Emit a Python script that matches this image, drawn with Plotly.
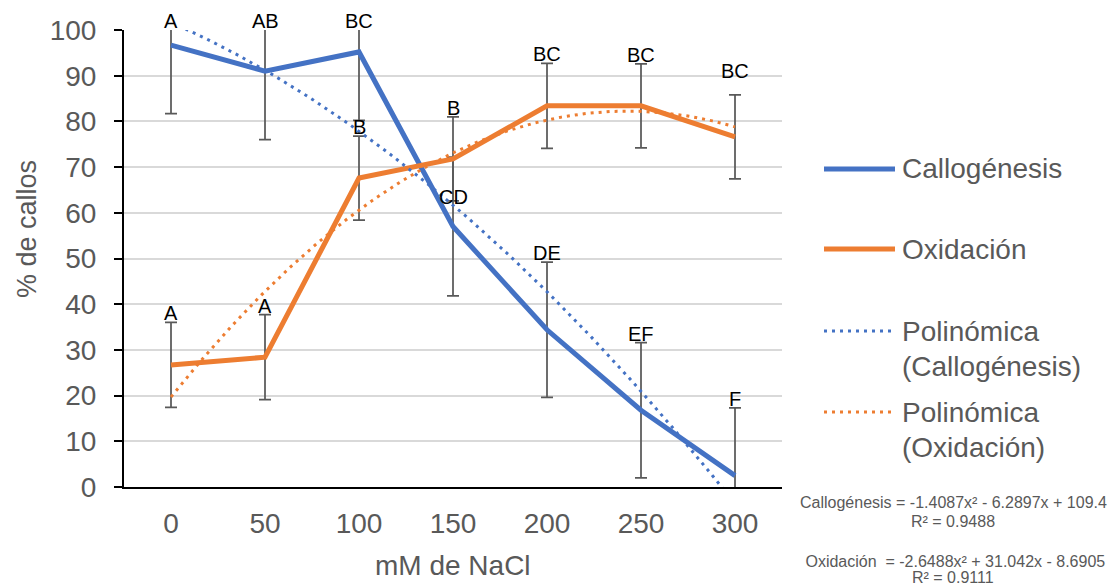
import numpy as np
import plotly.graph_objects as go

# ---------------- data ----------------
concentrations = ["0", "50", "100", "150", "200", "250", "300"]
callogenesis = [96.7, 91.0, 95.2, 57.0, 34.4, 16.8, 2.5]
callogenesis_err = [15.0, 15.0, 15.0, 15.2, 14.8, 14.8, 14.8]
oxidacion = [26.7, 28.4, 67.6, 71.8, 83.4, 83.4, 76.6]
oxidacion_err = [9.3, 9.3, 9.2, 9.2, 9.3, 9.2, 9.2]
letters_callogenesis = ["A", "AB", "BC", "CD", "DE", "EF", "F"]
letters_oxidacion = ["A", "A", "B", "B", "BC", "BC", "BC"]
# polynomial trendline coefficients (Excel, x = category number 1..7)
coef_callogenesis = [-1.4087, -6.2897, 109.4]
coef_oxidacion = [-2.6488, 31.042, -8.6905]
r2_callogenesis = "0.9488"
r2_oxidacion = "0.9111"

# ---------------- style ----------------
W, H = 1109, 588
L, R, T, B = 124, 327, 30, 101
BLUE = "#4472C4"
ORANGE = "#ED7D31"
GREY = "#595959"
FONT = "Liberation Sans, Arial, sans-serif"
plot_w = W - L - R
plot_h = H - T - B


def px_x(px):
    return (px - L) / plot_w


def px_y(py):
    return (H - B - py) / plot_h


idx = list(range(len(concentrations)))
t = np.linspace(0, len(concentrations) - 1, 300)
trend_cal = np.polyval(coef_callogenesis, t + 1)
trend_ox = np.polyval(coef_oxidacion, t + 1)

err_style = dict(type="data", color=GREY, thickness=1.75, width=6)
fig = go.Figure()
fig.add_trace(go.Scatter(x=idx, y=callogenesis, mode="lines",
                         line=dict(color=BLUE, width=5),
                         error_y=dict(array=callogenesis_err, **err_style),
                         showlegend=False))
fig.add_trace(go.Scatter(x=idx, y=oxidacion, mode="lines",
                         line=dict(color=ORANGE, width=5),
                         error_y=dict(array=oxidacion_err, **err_style),
                         showlegend=False))
fig.add_trace(go.Scatter(x=t, y=trend_cal, mode="lines",
                         line=dict(color=BLUE, width=3, dash="3px,5px"),
                         showlegend=False))
fig.add_trace(go.Scatter(x=t, y=trend_ox, mode="lines",
                         line=dict(color=ORANGE, width=3, dash="3px,5px"),
                         showlegend=False))

annotations = []
# significance letters (pixel nudges for hand-placed labels)
nudge = {("cal", 3): -49, ("ox", 6): 15}
for key, vals, errs, letters in (("cal", callogenesis, callogenesis_err, letters_callogenesis),
                                 ("ox", oxidacion, oxidacion_err, letters_oxidacion)):
    for i, (v, e, s) in enumerate(zip(vals, errs, letters)):
        annotations.append(dict(x=i, y=min(v + e, 100), xref="x", yref="y", text=s,
                                showarrow=False, yanchor="bottom", xanchor="center",
                                yshift=-4 + nudge.get((key, i), 0),
                                font=dict(family=FONT, size=20, color="black")))

# axis titles
annotations.append(dict(x=px_x(453), y=px_y(565), xref="paper", yref="paper",
                        text="mM de NaCl", showarrow=False, xanchor="center", yanchor="middle",
                        font=dict(family=FONT, size=28, color=GREY)))
annotations.append(dict(x=px_x(27), y=px_y(229), xref="paper", yref="paper",
                        text="% de callos", showarrow=False, textangle=-90,
                        xanchor="center", yanchor="middle",
                        font=dict(family=FONT, size=27, color=GREY)))

# manual legend
shapes = []
legend_items = [
    (169, dict(color=BLUE, width=5), ["Callogénesis"]),
    (249, dict(color=ORANGE, width=5), ["Oxidación"]),
    (331, dict(color=BLUE, width=3, dash="3px,5px"), ["Polinómica", "(Callogénesis)"]),
    (412, dict(color=ORANGE, width=3, dash="3px,5px"), ["Polinómica", "(Oxidación)"]),
]
for ypx, ln, lines in legend_items:
    shapes.append(dict(type="line", xref="paper", yref="paper",
                       x0=px_x(824), x1=px_x(895), y0=px_y(ypx), y1=px_y(ypx), line=ln))
    for k, txt in enumerate(lines):
        annotations.append(dict(x=px_x(900), y=px_y(ypx + 35 * k), xref="paper", yref="paper",
                                text=txt, showarrow=False, xanchor="left", yanchor="middle",
                                font=dict(family=FONT, size=28, color=GREY)))

# trendline equations (one annotation per line)
eq_lines = [
    (503, "Callogénesis = %.4fx² - %.4fx + %.1f"
     % (coef_callogenesis[0], -coef_callogenesis[1], coef_callogenesis[2])),
    (521, "R² = %s" % r2_callogenesis),
    (561, "\u00a0Oxidación\u00a0\u00a0= %.4fx² + %.3fx - %.4f"
     % (coef_oxidacion[0], coef_oxidacion[1], -coef_oxidacion[2])),
    (577, "R² = %s" % r2_oxidacion),
]
for ypx, txt in eq_lines:
    annotations.append(dict(x=px_x(953), y=px_y(ypx), xref="paper", yref="paper", text=txt,
                            showarrow=False, xanchor="center", yanchor="middle",
                            font=dict(family=FONT, size=16, color=GREY)))

fig.update_layout(
    width=W, height=H,
    margin=dict(l=L, r=R, t=T, b=B, pad=0),
    paper_bgcolor="white", plot_bgcolor="white",
    font=dict(family=FONT, color=GREY),
    showlegend=False,
    annotations=annotations,
    shapes=shapes,
    xaxis=dict(range=[-0.5, len(concentrations) - 0.5], tickmode="array", tickvals=idx,
               ticktext=concentrations, showgrid=False, zeroline=False,
               showline=True, linecolor="black", linewidth=2, ticks="",
               tickfont=dict(family=FONT, size=28, color=GREY), ticklabelstandoff=10),
    yaxis=dict(range=[0, 100], tick0=0, dtick=10, showgrid=True, gridcolor="#D9D9D9",
               gridwidth=1.5, zeroline=False, showline=True, linecolor="black", linewidth=2,
               ticks="outside", ticklen=8, tickwidth=2, tickcolor="black",
               tickfont=dict(family=FONT, size=28, color=GREY), ticklabelstandoff=12),
)

fig.write_html("out.html")
